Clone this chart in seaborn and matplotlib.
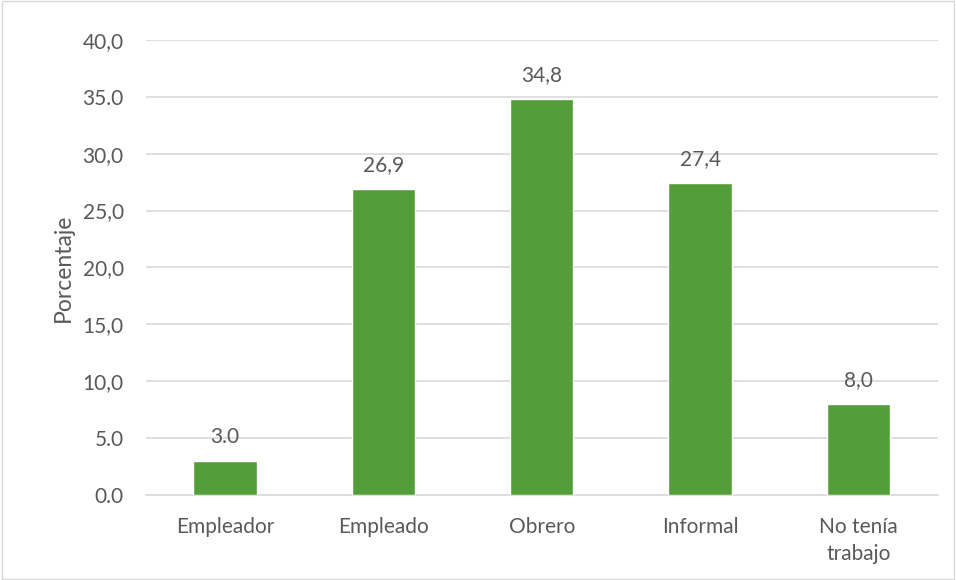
import matplotlib
matplotlib.use("Agg")
import matplotlib.pyplot as plt
import seaborn as sns
import pandas as pd

# datos
categorias = ["Empleador", "Empleado", "Obrero", "Informal", "No tenía\ntrabajo"]
porcentajes = [3.0, 26.9, 34.8, 27.4, 8.0]
etiquetas = ["3.0", "26,9", "34,8", "27,4", "8,0"]
yticks = [0, 5, 10, 15, 20, 25, 30, 35, 40]
ytick_labels = ["0.0", "5.0", "10,0", "15,0", "20,0", "25,0", "30,0", "35.0", "40,0"]

df = pd.DataFrame({"categoria": categorias, "porcentaje": porcentajes})

sns.set_style("white")
plt.rcParams["font.family"] = ["Lato", "DejaVu Sans"]
gris = "#595959"

fig = plt.figure(figsize=(9.56, 5.8), dpi=100)
ax = fig.add_axes([0.1527, 0.1466, 0.828, 0.7845])

sns.barplot(data=df, x="categoria", y="porcentaje", color="#549E39",
            width=0.4, saturation=1, ax=ax, zorder=3)

ax.set_ylim(0, 40)
ax.set_yticks(yticks)
ax.set_yticklabels(ytick_labels)
ax.grid(axis="y", color="#D9D9D9", linewidth=1.2, zorder=0)
for s in ["top", "right", "left"]:
    ax.spines[s].set_visible(False)
ax.spines["bottom"].set_color("#D9D9D9")
ax.spines["bottom"].set_linewidth(1.2)
ax.tick_params(axis="both", length=0, labelsize=15, colors=gris)
ax.tick_params(axis="y", pad=16)
ax.tick_params(axis="x", pad=16)
for lab in ax.get_xticklabels():
    lab.set_linespacing(1.45)
ax.set_xlabel("")
ax.set_ylabel("Porcentaje", fontsize=16.5, color=gris, labelpad=6)

for i, (v, t) in enumerate(zip(porcentajes, etiquetas)):
    ax.annotate(t, (i, v), xytext=(0, 10), textcoords="offset points",
                ha="center", va="bottom", fontsize=15, color=gris)

# borde del gráfico
fig.patches.append(plt.Rectangle((0.002, 0.002), 0.996, 0.996, transform=fig.transFigure,
                                 fill=False, edgecolor="#D9D9D9", linewidth=1))

fig.savefig("out.png", dpi=100)
